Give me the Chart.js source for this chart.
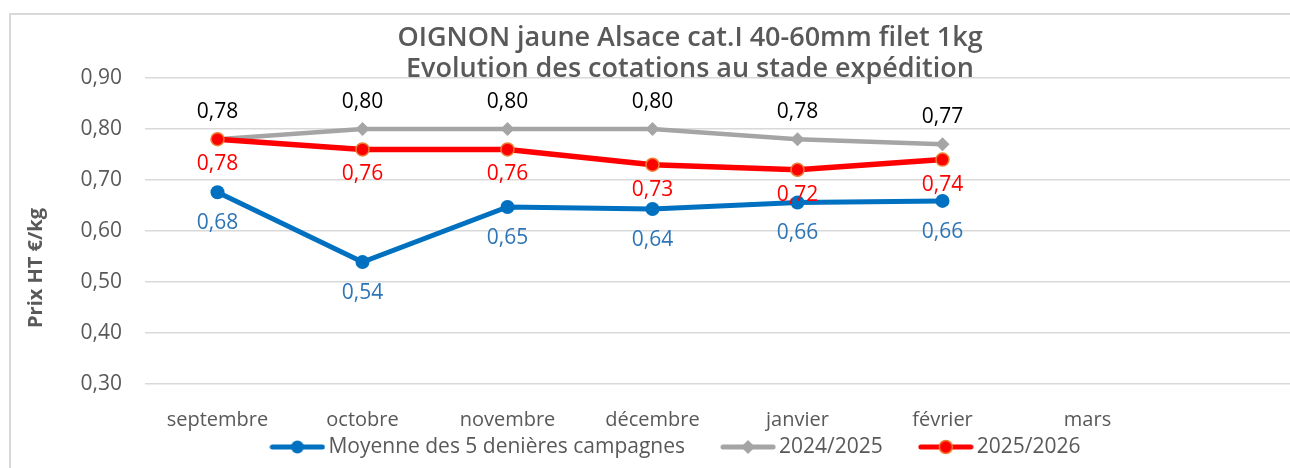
<!DOCTYPE html>
<html>
<head>
<meta charset="utf-8">
<script src="https://cdn.jsdelivr.net/npm/chart.js@4"></script>
<style>
  html, body { margin: 0; padding: 0; background: #fff; overflow: hidden; }
  #wrap { position: relative; width: 1313px; height: 468px; }
</style>
</head>
<body>
<div id="wrap"><canvas id="chart" width="1313" height="468"></canvas></div>
<script>
// Data
const categories = ['septembre', 'octobre', 'novembre', 'décembre', 'janvier', 'février', 'mars', ''];
const moyenne5 = [0.676, 0.539, 0.647, 0.643, 0.656, 0.659, null, null];
const saison2425 = [0.78, 0.80, 0.80, 0.80, 0.78, 0.77, null, null];
const saison2526 = [0.78, 0.76, 0.76, 0.73, 0.72, 0.74, null, null];
const yTicks = { min: 0.3, max: 0.9, step: 0.1 };

const titleLines = ['OIGNON jaune Alsace cat.I 40-60mm filet 1kg', 'Evolution des cotations au stade expédition'];
const yTitle = 'Prix HT €/kg';

const FONT = "'Open Sans', 'Noto Sans', sans-serif";
const GREY_TXT = '#595959';

const fmt = v => v.toFixed(2).replace('.', ',');

// little legend images: line + marker
function legendIcon(color, style, border) {
  const c = document.createElement('canvas');
  c.width = 56; c.height = 18;
  const ctx = c.getContext('2d');
  ctx.strokeStyle = color; ctx.lineWidth = 5; ctx.lineCap = 'round';
  ctx.beginPath(); ctx.moveTo(3, 9); ctx.lineTo(53, 9); ctx.stroke();
  ctx.fillStyle = color;
  ctx.beginPath();
  if (style === 'rectRot') {
    ctx.moveTo(28, 2); ctx.lineTo(35, 9); ctx.lineTo(28, 16); ctx.lineTo(21, 9); ctx.closePath();
  } else {
    ctx.arc(28, 9, 6.5, 0, Math.PI * 2);
  }
  ctx.fill();
  if (border) { ctx.strokeStyle = border; ctx.lineWidth = 1.5; ctx.stroke(); }
  return c;
}

const decorPlugin = {
  id: 'decor',
  beforeDraw(chart) {
    const ctx = chart.ctx;
    ctx.save();
    ctx.strokeStyle = '#d9d9d9';
    ctx.lineWidth = 2;
    ctx.beginPath();
    ctx.moveTo(10, 470); ctx.lineTo(10, 14); ctx.lineTo(1320, 14);
    ctx.stroke();
    ctx.restore();
  },
  afterDraw(chart) {
    const ctx = chart.ctx;
    ctx.save();
    // title
    ctx.fillStyle = GREY_TXT;
    ctx.textAlign = 'center';
    ctx.textBaseline = 'middle';
    ctx.font = '600 27px ' + FONT;
    ctx.fillText(titleLines[0], 690, 38);
    ctx.fillText(titleLines[1], 690, 69);
    // y axis title
    ctx.save();
    ctx.translate(36, 268);
    ctx.rotate(-Math.PI / 2);
    ctx.font = 'bold 20px ' + FONT;
    ctx.fillText(yTitle, 0, 0);
    ctx.restore();
    // legend
    ctx.font = '21px ' + FONT;
    ctx.textAlign = 'left';
    const items = chart.data.datasets.map(ds => ({ icon: ds.legendIcon, text: ds.label }));
    const gap = 35, iconW = 56, textGap = 3;
    let total = 0;
    items.forEach((it, i) => { total += iconW + textGap + ctx.measureText(it.text).width + (i ? gap : 0); });
    let x = 675 - total / 2;
    const y = 447;
    items.forEach(it => {
      ctx.drawImage(it.icon, x, y - 9);
      x += iconW + textGap;
      ctx.fillText(it.text, x, y);
      x += ctx.measureText(it.text).width + gap;
    });
    ctx.restore();
  }
};

const labelPlugin = {
  id: 'valueLabels',
  afterDatasetsDraw(chart) {
    const ctx = chart.ctx;
    ctx.save();
    ctx.font = '21px ' + FONT;
    ctx.textAlign = 'center';
    ctx.textBaseline = 'middle';
    chart.data.datasets.forEach((ds, i) => {
      const meta = chart.getDatasetMeta(i);
      meta.data.forEach((pt, j) => {
        const v = ds.data[j];
        if (v == null) return;
        ctx.fillStyle = ds.labelColor;
        ctx.fillText(fmt(v), pt.x, pt.y + ds.labelOffset);
      });
    });
    ctx.restore();
  }
};

new Chart(document.getElementById('chart'), {
  type: 'line',
  data: {
    labels: categories,
    datasets: [
      {
        label: 'Moyenne des 5 denières campagnes',
        data: moyenne5,
        borderColor: '#0070c0',
        backgroundColor: '#0070c0',
        borderWidth: 5,
        pointStyle: 'circle',
        pointRadius: 7,
        pointBorderWidth: 0,
        order: 2,
        labelColor: '#2e75b6',
        labelOffset: 31,
        legendIcon: legendIcon('#0070c0', 'circle')
      },
      {
        label: '2024/2025',
        data: saison2425,
        borderColor: '#a5a5a5',
        backgroundColor: '#a5a5a5',
        borderWidth: 4.5,
        pointStyle: 'rectRot',
        pointRadius: 7,
        pointBorderWidth: 0,
        order: 1,
        labelColor: '#000000',
        labelOffset: -27,
        legendIcon: legendIcon('#a5a5a5', 'rectRot')
      },
      {
        label: '2025/2026',
        data: saison2526,
        borderColor: '#ff0000',
        backgroundColor: '#ff0000',
        borderWidth: 5.5,
        pointStyle: 'circle',
        pointRadius: 6.5,
        pointBorderColor: '#ed7d31',
        pointBorderWidth: 1.5,
        order: 0,
        labelColor: '#ff0000',
        labelOffset: 25,
        legendIcon: legendIcon('#ff0000', 'circle', '#ed7d31')
      }
    ]
  },
  options: {
    responsive: false,
    animation: false,
    devicePixelRatio: 1,
    layout: { padding: { left: 0, top: 78, right: 0, bottom: 0 } },
    plugins: {
      legend: { display: false },
      title: { display: false },
      tooltip: { enabled: false }
    },
    scales: {
      x: {
        offset: true,
        grid: { display: false },
        border: { display: false },
        ticks: { color: GREY_TXT, font: { family: FONT, size: 20 }, padding: 16, maxRotation: 0, autoSkip: false },
        afterFit(scale) { scale.height = 468 - 384; }
      },
      y: {
        min: yTicks.min,
        max: yTicks.max,
        grid: { color: '#d9d9d9', lineWidth: 1.5, drawTicks: false },
        border: { display: false },
        ticks: {
          stepSize: yTicks.step,
          color: GREY_TXT,
          font: { family: FONT, size: 21 },
          padding: 23,
          callback: v => fmt(v)
        },
        afterFit(scale) { scale.width = 145; }
      }
    }
  },
  plugins: [decorPlugin, labelPlugin]
});
</script>
</body>
</html>
